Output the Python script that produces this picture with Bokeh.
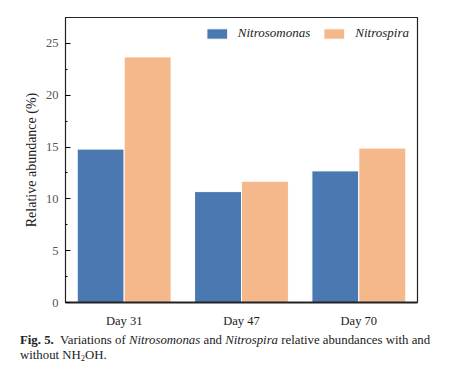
from bokeh.plotting import figure
from bokeh.models import (ColumnDataSource, Range1d, Legend, LegendItem, Div, FixedTicker)
from bokeh.transform import dodge
from bokeh.layouts import column
from bokeh.embed import file_html
from bokeh.resources import INLINE

days = ["Day 31", "Day 47", "Day 70"]
nitrosomonas = [14.8, 10.7, 12.7]
nitrospira = [23.7, 11.7, 14.9]
y_ticks = [0, 5, 10, 15, 20, 25]
y_minor = [2.5, 7.5, 12.5, 17.5, 22.5]

BLUE = "#4a79b2"
ORANGE = "#f4b88a"
SERIF = "Liberation Serif"

src = ColumnDataSource(dict(day=days, nitrosomonas=nitrosomonas, nitrospira=nitrospira))

p = figure(x_range=days, y_range=Range1d(0, 27.5), frame_width=352, frame_height=285,
           min_border_left=65, min_border_right=20, min_border_top=17, min_border_bottom=28,
           output_backend="svg", toolbar_location=None)

r1 = p.vbar(x=dodge("day", -0.2, range=p.x_range), top="nitrosomonas", width=0.4, source=src,
            fill_color=BLUE, line_color="white", line_width=1)
r2 = p.vbar(x=dodge("day", 0.2, range=p.x_range), top="nitrospira", width=0.4, source=src,
            fill_color=ORANGE, line_color="white", line_width=1)

p.xgrid.visible = False
p.ygrid.visible = False
p.outline_line_color = "#222222"
p.outline_line_width = 1.2
p.x_range.range_padding = 0

p.yaxis.ticker = FixedTicker(ticks=y_ticks, minor_ticks=y_minor)
p.yaxis.axis_label = "Relative abundance (%)"
p.yaxis.axis_label_text_font = SERIF
p.yaxis.axis_label_text_font_style = "normal"
p.yaxis.axis_label_text_font_size = "14px"
p.yaxis.axis_label_text_color = "#222222"
p.yaxis.axis_label_standoff = 4
p.yaxis.major_label_text_font = SERIF
p.yaxis.major_label_text_font_size = "12.5px"
p.yaxis.major_label_text_color = "#555555"
p.yaxis.major_label_standoff = 7
p.yaxis.major_tick_in = 5
p.yaxis.major_tick_out = 0
p.yaxis.minor_tick_in = 2
p.yaxis.minor_tick_out = 0
p.yaxis.axis_line_color = "#222222"

p.xaxis.major_tick_line_color = None
p.xaxis.minor_tick_line_color = None
p.xaxis.major_label_text_font = SERIF
p.xaxis.major_label_text_font_size = "12.5px"
p.xaxis.major_label_text_color = "#222222"
p.xaxis.major_label_standoff = 5
p.xaxis.axis_line_color = "#222222"
p.xaxis.axis_line_width = 1.8

legend = Legend(items=[LegendItem(label="Nitrosomonas", renderers=[r1]),
                       LegendItem(label="Nitrospira", renderers=[r2])],
                location="top_right", orientation="horizontal",
                border_line_color=None, background_fill_alpha=0,
                label_text_font=SERIF, label_text_font_style="italic",
                label_text_font_size="13px", label_text_color="#222222",
                glyph_width=26, glyph_height=13, spacing=11,
                margin=8, padding=6, label_standoff=8)
p.add_layout(legend)

caption = Div(text=(
    '<span style="font-weight:bold;">Fig. 5.</span>'
    '<span>&nbsp; Variations of </span><span style="font-style:italic;">Nitrosomonas</span>'
    '<span> and </span><span style="font-style:italic;">Nitrospira</span>'
    '<span> relative abundances with and</span><br>'
    '<span>without NH</span><span style="font-size:8.5px; vertical-align:-2px;">2</span><span>OH.</span>'),
    styles={"font-family": "'Liberation Serif'", "font-size": "12.8px",
            "line-height": "15px", "color": "#222222", "white-space": "nowrap"},
    width=425, margin=(3, 0, 0, 20))

layout = column(p, caption)
open("out.html", "w").write(file_html(layout, INLINE))
